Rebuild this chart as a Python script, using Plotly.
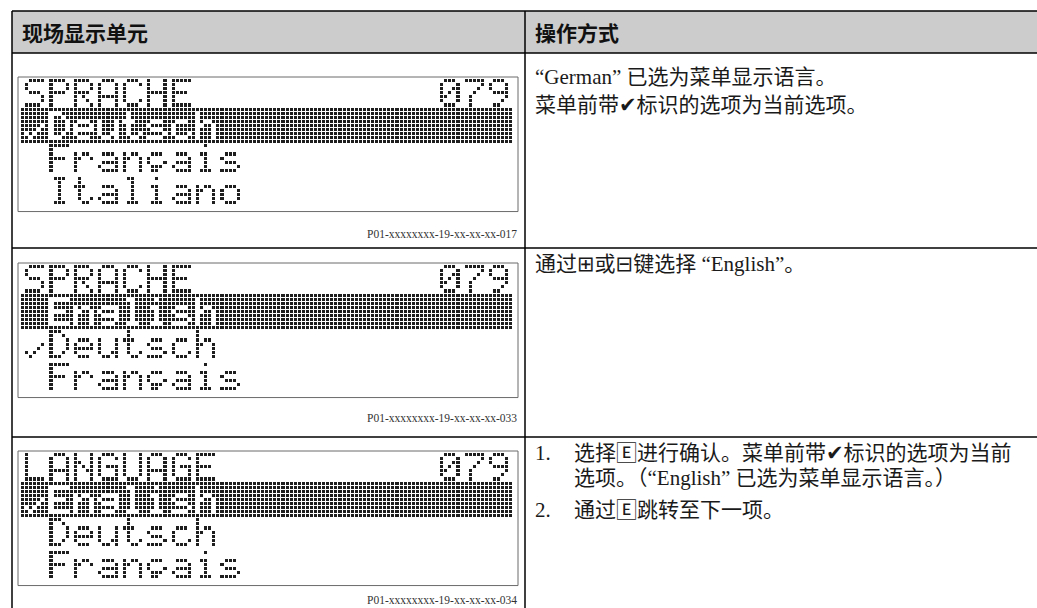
import numpy as np
import plotly.graph_objects as go

W, H = 1037, 608

# ---------------- content ----------------
header_labels = ["现场显示单元", "操作方式"]

lcd_lines = [
    ["SPRACHE          079", "✓Deutsch", " Français", " Italiano"],
    ["SPRACHE          079", " English", "✓Deutsch", " Français"],
    ["LANGUAGE         079", "✓English", " Deutsch", " Français"],
]
lcd_highlight = [1, 1, 1]
figure_codes = [
    "P01-xxxxxxxx-19-xx-xx-xx-017",
    "P01-xxxxxxxx-19-xx-xx-xx-033",
    "P01-xxxxxxxx-19-xx-xx-xx-034",
]

row1_text = ["“German” 已选为菜单显示语言。", "菜单前带✔标识的选项为当前选项。"]
row2_text = ["通过⊞或⊟键选择 “English”。"]
row3_items = [
    ("1.", ["选择🄴进行确认。菜单前带✔标识的选项为当前", "选项。（“English” 已选为菜单显示语言。）"]),
    ("2.", ["通过🄴跳转至下一项。"]),
]

# ---------------- 5x7 dot-matrix font ----------------
GLYPHS = {
    " ": [".....", ".....", ".....", ".....", ".....", ".....", "....."],
    "S": [".####", "#....", "#....", ".###.", "....#", "....#", "####."],
    "P": ["####.", "#...#", "#...#", "####.", "#....", "#....", "#...."],
    "R": ["####.", "#...#", "#...#", "####.", "#.#..", "#..#.", "#...#"],
    "A": [".###.", "#...#", "#...#", "#...#", "#####", "#...#", "#...#"],
    "C": [".###.", "#...#", "#....", "#....", "#....", "#...#", ".###."],
    "H": ["#...#", "#...#", "#...#", "#####", "#...#", "#...#", "#...#"],
    "E": ["#####", "#....", "#....", "####.", "#....", "#....", "#####"],
    "0": [".###.", "#...#", "#..##", "#.#.#", "##..#", "#...#", ".###."],
    "7": ["#####", "....#", "...#.", "..#..", ".#...", ".#...", ".#..."],
    "9": [".###.", "#...#", "#...#", ".####", "....#", "...#.", ".##.."],
    "D": ["###..", "#..#.", "#...#", "#...#", "#...#", "#..#.", "###.."],
    "e": [".....", ".....", ".###.", "#...#", "#####", "#....", ".###."],
    "u": [".....", ".....", "#...#", "#...#", "#...#", "#..##", ".##.#"],
    "t": [".#...", ".#...", "###..", ".#...", ".#...", ".#..#", "..##."],
    "s": [".....", ".....", ".###.", "#....", ".###.", "....#", "####."],
    "c": [".....", ".....", ".###.", "#....", "#....", "#...#", ".###."],
    "h": ["#....", "#....", "#.##.", "##..#", "#...#", "#...#", "#...#"],
    "F": ["#####", "#....", "#....", "####.", "#....", "#....", "#...."],
    "r": [".....", ".....", "#.##.", "##..#", "#....", "#....", "#...."],
    "a": [".....", ".....", ".###.", "....#", ".####", "#...#", ".####"],
    "n": [".....", ".....", "#.##.", "##..#", "#...#", "#...#", "#...#"],
    "ç": [".....", ".....", ".###.", "#....", "#...#", ".###.", ".##.."],
    "i": ["..#..", ".....", ".##..", "..#..", "..#..", "..#..", ".###."],
    "l": [".##..", "..#..", "..#..", "..#..", "..#..", "..#..", ".###."],
    "o": [".....", ".....", ".###.", "#...#", "#...#", "#...#", ".###."],
    "I": [".###.", "..#..", "..#..", "..#..", "..#..", "..#..", ".###."],
    "g": [".....", ".....", ".####", "#...#", ".####", "....#", ".###."],
    "L": ["#....", "#....", "#....", "#....", "#....", "#....", "#####"],
    "N": ["#...#", "#...#", "##..#", "#.#.#", "#..##", "#...#", "#...#"],
    "G": [".###.", "#...#", "#....", "#.###", "#...#", "#...#", ".####"],
    "U": ["#...#", "#...#", "#...#", "#...#", "#...#", "#...#", ".###."],
    "✓": [".....", ".....", ".....", "....#", "...#.", "#.#..", ".#..."],
}

# ---------------- layout ----------------
TABLE_LEFT, COL_DIV, TABLE_RIGHT = 12, 525, 1040
HEADER_TOP, HEADER_BOTTOM = 11, 53
ROW_LINES = [248, 437]
LCD_TOPS = [77, 263, 451]
LCD_LEFT, LCD_RIGHT = 18, 518
DOT_PX, DOT_PY = 4.07, 4.08
N_CHARS = 20
LCD_H = 32 * DOT_PY + 4
CODE_Y = [234, 418, 600]
TEXT_X = 533
ITEM_TEXT_X = 572
FONT_HEAD = "Noto Sans CJK SC"
FONT_BODY = "Liberation Serif, Noto Sans CJK SC, DejaVu Sans"
BODY_SIZE = 21
INK = "#1a1a1a"

ROW1_Y = [77, 105]
ROW2_Y = [264]
ROW3_Y = [[453, 478], [510]]


def lcd_grid(lines, hl):
    ncols = N_CHARS * 6 + 1
    nrows = len(lines) * 8
    z = np.zeros((nrows, ncols), dtype=bool)
    for li, txt in enumerate(lines):
        for ci, ch in enumerate(txt):
            g = GLYPHS.get(ch, GLYPHS[" "])
            for r in range(7):
                for c in range(5):
                    if g[r][c] == "#":
                        z[8 * li + r, 1 + ci * 6 + c] = True
    r0, r1 = 8 * hl - 1, 8 * hl + 8
    z[r0:r1, :] = ~z[r0:r1, :]
    return z


fig = go.Figure()
shapes = []
annotations = []

# header band
shapes.append(dict(type="rect", x0=TABLE_LEFT, x1=TABLE_RIGHT, y0=HEADER_TOP, y1=HEADER_BOTTOM,
                   fillcolor="#cccccc", line=dict(width=0), layer="below"))
# table lines
for y in [HEADER_TOP, HEADER_BOTTOM] + ROW_LINES:
    shapes.append(dict(type="line", x0=TABLE_LEFT, x1=TABLE_RIGHT, y0=y, y1=y,
                       line=dict(color="#000000", width=1.5)))
for x in [TABLE_LEFT, COL_DIV]:
    shapes.append(dict(type="line", x0=x, x1=x, y0=HEADER_TOP, y1=H + 5,
                       line=dict(color="#000000", width=1.5)))

# header labels
for lab, x in zip(header_labels, [20, TEXT_X]):
    annotations.append(dict(x=x, y=(HEADER_TOP + HEADER_BOTTOM) / 2, text="<b>" + lab + "</b>",
                            xanchor="left", yanchor="middle", showarrow=False,
                            font=dict(family=FONT_HEAD, size=21, color="#111111")))

# LCD displays
for k, lines in enumerate(lcd_lines):
    top = LCD_TOPS[k]
    shapes.append(dict(type="rect", x0=LCD_LEFT, x1=LCD_RIGHT, y0=top, y1=top + LCD_H,
                       line=dict(color="#6a6a6a", width=1), fillcolor="rgba(0,0,0,0)"))
    z = lcd_grid(lines, lcd_highlight[k])
    zz = [[1 if v else None for v in row] for row in z]
    gx0 = LCD_LEFT + 3
    gy0 = top + 2
    fig.add_trace(go.Heatmap(
        z=zz, x0=gx0 + DOT_PX / 2, dx=DOT_PX, y0=gy0 + DOT_PY / 2, dy=DOT_PY,
        zmin=0, zmax=1, colorscale=[[0, "#1e1e1e"], [1, "#1e1e1e"]],
        showscale=False, xgap=1, ygap=1, hoverinfo="skip"))
    annotations.append(dict(x=LCD_RIGHT + 1, y=CODE_Y[k], text=figure_codes[k],
                            xanchor="right", yanchor="middle", showarrow=False,
                            font=dict(family="Liberation Serif", size=11.5, color="#333333")))

# right column texts
def body(x, y, txt):
    annotations.append(dict(x=x, y=y, text=txt, xanchor="left", yanchor="middle",
                            showarrow=False, font=dict(family=FONT_BODY, size=BODY_SIZE, color=INK)))

for txt, y in zip(row1_text, ROW1_Y):
    body(TEXT_X, y, txt)
for txt, y in zip(row2_text, ROW2_Y):
    body(TEXT_X, y, txt)
for (num, lines), ys in zip(row3_items, ROW3_Y):
    body(TEXT_X, ys[0], num)
    for txt, y in zip(lines, ys):
        body(ITEM_TEXT_X, y, txt)

fig.update_layout(
    width=W, height=H, margin=dict(l=0, r=0, t=0, b=0),
    paper_bgcolor="white", plot_bgcolor="white",
    xaxis=dict(range=[0, W], visible=False, fixedrange=True),
    yaxis=dict(range=[H, 0], visible=False, fixedrange=True),
    shapes=shapes, annotations=annotations, showlegend=False,
)
fig.write_html("out.html", config={"displayModeBar": False},
               post_script="document.body.style.margin='0px';document.body.style.overflow='hidden';")
